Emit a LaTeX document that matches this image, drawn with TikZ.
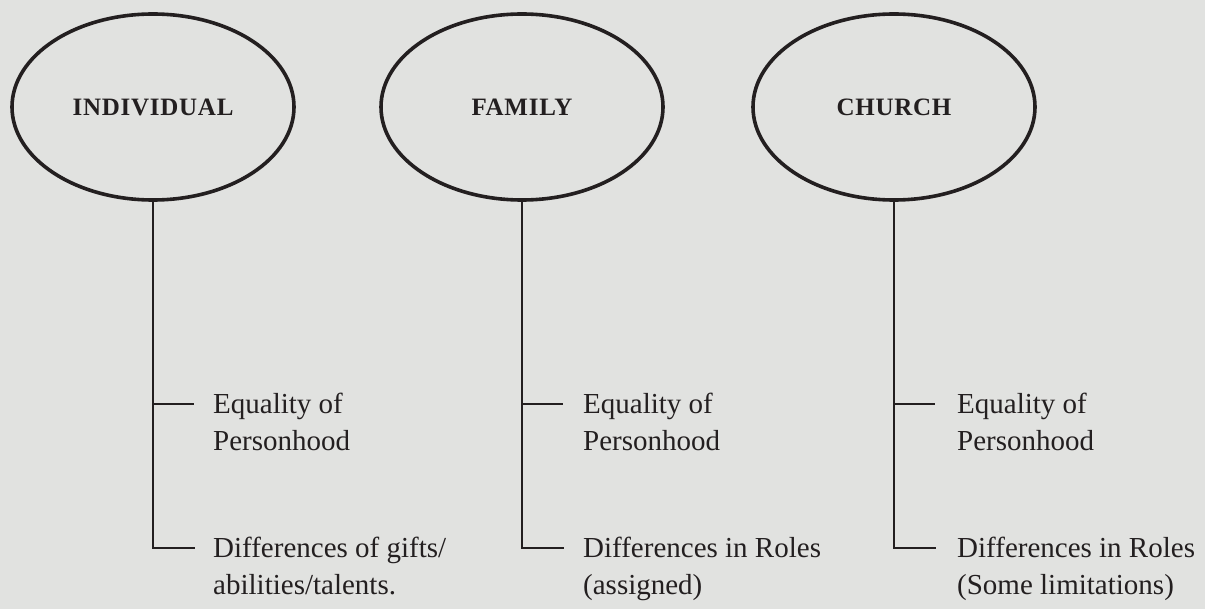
\documentclass[tikz,border=0pt]{standalone}
\usepackage{fontspec}
\setmainfont{Liberation Serif}
\usetikzlibrary{shapes.geometric}
\definecolor{bg}{HTML}{E1E2E0}
\definecolor{ink}{HTML}{231F20}
\begin{document}
\begin{tikzpicture}[x=1pt,y=-1pt,
  circ/.style={ellipse,draw=ink,line width=3.6pt,minimum width=282pt,minimum height=186pt,inner sep=0pt,
    font=\fontsize{25}{30}\selectfont\bfseries\addfontfeature{LetterSpace=3},text=ink},
  lbl/.style={anchor=base west,inner sep=0pt,align=left,text=ink,font=\fontsize{29}{37}\selectfont},
  conn/.style={draw=ink,line width=2pt}]
\fill[bg] (0,0) rectangle (1205,609);
\useasboundingbox (0,0) rectangle (1205,609);
% ellipses
\node[circ] (ind) at (153,107) {INDIVIDUAL};
\node[circ] (fam) at (522,107) {FAMILY};
\node[circ] (chu) at (894,107) {CHURCH};
% stub ends
\coordinate (ia) at (194,404);
\coordinate (ib) at (195,548);
\coordinate (fa) at (563,404);
\coordinate (fb) at (564,548);
\coordinate (ca) at (935,404);
\coordinate (cb) at (936,548);
% labels (anchor at baseline of last line)
\node[lbl] (ieq) at (213,450) {Equality of\\Personhood};
\node[lbl] (idf) at (213,594) {Differences of gifts/\\abilities/talents.};
\node[lbl] (feq) at (583,450) {Equality of\\Personhood};
\node[lbl] (fdf) at (583,594) {Differences in Roles\\(assigned)};
\node[lbl] (ceq) at (957,450) {Equality of\\Personhood};
\node[lbl] (cdf) at (957,594) {Differences in Roles\\(Some limitations)};
% connectors
\draw[conn] (ind.south) |- (ib);
\draw[conn] (ind.south |- ia) -- (ia);
\draw[conn] (fam.south) |- (fb);
\draw[conn] (fam.south |- fa) -- (fa);
\draw[conn] (chu.south) |- (cb);
\draw[conn] (chu.south |- ca) -- (ca);
\end{tikzpicture}
\end{document}
